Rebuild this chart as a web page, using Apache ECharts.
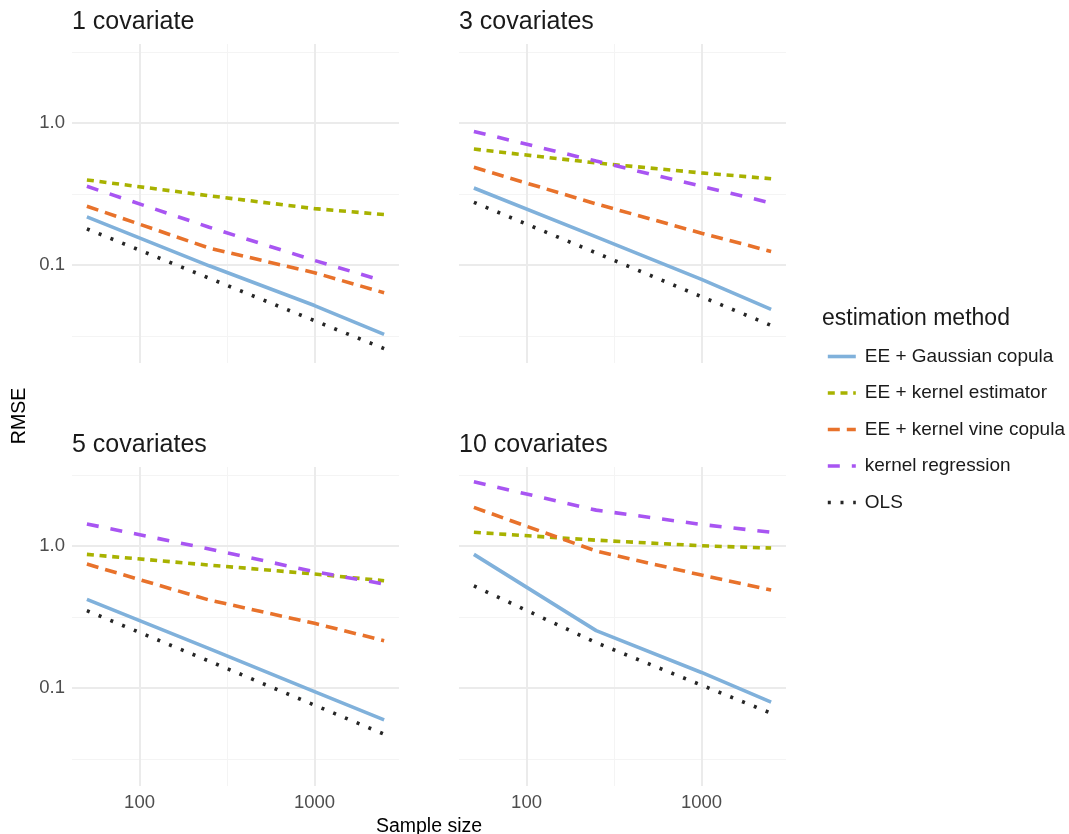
<!DOCTYPE html>
<html>
<head>
<meta charset="utf-8">
<script src="https://cdn.jsdelivr.net/npm/echarts@6/dist/echarts.min.js"></script>
<style>
html, body { margin: 0; padding: 0; background: #ffffff; }
#chart { width: 1069px; height: 834px; }
</style>
</head>
<body>
<div id="chart"></div>
<script>
// ---------------- data ----------------
const sampleSizes = [50, 250, 1000, 2500];
const panelTitles = ['1 covariate', '3 covariates', '5 covariates', '10 covariates'];
const methodNames = ['EE + Gaussian copula', 'EE + kernel estimator', 'EE + kernel vine copula', 'kernel regression', 'OLS'];

// RMSE per panel (1, 3, 5, 10 covariates); each row follows sampleSizes
const gaussianCopula = [
  [0.219, 0.099, 0.052, 0.0326],
  [0.349, 0.158, 0.0795, 0.0489],
  [0.422, 0.190, 0.0947, 0.0599],
  [0.874, 0.254, 0.129, 0.0797]
];
const kernelEstimator = [
  [0.398, 0.308, 0.250, 0.227],
  [0.656, 0.524, 0.446, 0.406],
  [0.874, 0.735, 0.636, 0.570],
  [1.25, 1.10, 1.005, 0.968]
];
const kernelVineCopula = [
  [0.260, 0.132, 0.0885, 0.064],
  [0.488, 0.270, 0.168, 0.125],
  [0.747, 0.417, 0.286, 0.216],
  [1.87, 0.922, 0.625, 0.491]
];
const kernelRegression = [
  [0.359, 0.185, 0.108, 0.0772],
  [0.873, 0.540, 0.359, 0.274],
  [1.43, 0.955, 0.660, 0.541],
  [2.83, 1.79, 1.42, 1.25]
];
const ols = [
  [0.180, 0.081, 0.0407, 0.0259],
  [0.277, 0.122, 0.060, 0.0377],
  [0.351, 0.155, 0.076, 0.0475],
  [0.524, 0.209, 0.105, 0.0667]
];
const methodData = [gaussianCopula, kernelEstimator, kernelVineCopula, kernelRegression, ols];

const xTickValues = [100, 1000];
const xTickLabels = ['100', '1000'];
const yTickValues = [0.1, 1];
const yTickLabels = ['0.1', '1.0'];

const xLimits = [41.1, 3041];
const yLimits = [0.0205, 3.6];

// ---------------- styles / layout ----------------
const FONT = '"Liberation Sans", Arial, Helvetica, sans-serif';
const methodColors = ['#80B1DB', '#A8B200', '#E8722B', '#A855F2', '#262626'];
const methodDashes = ['solid', [7, 5.7], [12, 7], [12, 12], [3, 9.7]];
const LINE_W = 3.6;
const panelRects = [
  { left: 72, top: 44 }, { left: 459, top: 44 },
  { left: 72, top: 467 }, { left: 459, top: 467 }
];
const PANEL_W = 327, PANEL_H = 319;
const titleTops = [10, 10, 433, 433];

function isTick(v, list) {
  for (let i = 0; i < list.length; i++) {
    if (Math.abs(Math.log10(v) - Math.log10(list[i])) < 1e-6) return i;
  }
  return -1;
}

const grids = [], xAxes = [], yAxes = [], series = [], titles = [];

panelRects.forEach(function (r, p) {
  const row = p < 2 ? 0 : 1;
  const col = p % 2;
  grids.push({ left: r.left, top: r.top, width: PANEL_W, height: PANEL_H,
               containLabel: false, outerBoundsMode: 'none', show: false });

  // primary x axis (decades)
  xAxes.push({
    type: 'log', logBase: 10, gridIndex: p, position: 'bottom',
    min: xLimits[0], max: xLimits[1], z: 1,
    axisLine: { show: false }, axisTick: { show: false },
    axisLabel: {
      show: row === 1, showMinLabel: false, showMaxLabel: false, margin: 7,
      fontSize: 18.5, color: '#4D4D4D', fontFamily: FONT,
      formatter: function (v) { const i = isTick(v, xTickValues); return i >= 0 ? xTickLabels[i] : ''; }
    },
    splitLine: { show: true, showMinLine: false, showMaxLine: false,
                 lineStyle: { color: '#EBEBEB', width: 2 } }
  });
  // minor x grid (half decades)
  xAxes.push({
    type: 'log', logBase: Math.sqrt(10), gridIndex: p, position: 'top',
    min: xLimits[0], max: xLimits[1], z: 0,
    axisLine: { show: false }, axisTick: { show: false }, axisLabel: { show: false },
    splitLine: { show: true, showMinLine: false, showMaxLine: false,
                 lineStyle: { color: '#F4F4F4', width: 1 } }
  });
  // primary y axis
  yAxes.push({
    type: 'log', logBase: 10, gridIndex: p, position: 'left',
    min: yLimits[0], max: yLimits[1], z: 1,
    axisLine: { show: false }, axisTick: { show: false },
    axisLabel: {
      show: col === 0, showMinLabel: false, showMaxLabel: false, margin: 7,
      fontSize: 18.5, color: '#4D4D4D', fontFamily: FONT,
      formatter: function (v) { const i = isTick(v, yTickValues); return i >= 0 ? yTickLabels[i] : ''; }
    },
    splitLine: { show: true, showMinLine: false, showMaxLine: false,
                 lineStyle: { color: '#EBEBEB', width: 2 } }
  });
  // minor y grid
  yAxes.push({
    type: 'log', logBase: Math.sqrt(10), gridIndex: p, position: 'right',
    min: yLimits[0], max: yLimits[1], z: 0,
    axisLine: { show: false }, axisTick: { show: false }, axisLabel: { show: false },
    splitLine: { show: true, showMinLine: false, showMaxLine: false,
                 lineStyle: { color: '#F4F4F4', width: 1 } }
  });

  titles.push({
    text: panelTitles[p], left: r.left, top: titleTops[p], padding: 0,
    textStyle: { fontSize: 25, fontWeight: 'normal', color: '#1A1A1A', fontFamily: FONT, lineHeight: 25 }
  });

  methodNames.forEach(function (name, m) {
    series.push({
      name: name, type: 'line', xAxisIndex: 2 * p, yAxisIndex: 2 * p,
      symbol: 'none', showSymbol: false, silent: true, animation: false,
      data: sampleSizes.map(function (n, i) { return [n, methodData[m][p][i]]; }),
      lineStyle: { color: methodColors[m], width: LINE_W, type: methodDashes[m], cap: 'butt' },
      itemStyle: { color: methodColors[m], opacity: 0 },
      z: 2
    });
  });
});

titles.push({
  text: 'estimation method', left: 822, top: 307, padding: 0,
  textStyle: { fontSize: 23, fontWeight: 'normal', color: '#1A1A1A', fontFamily: FONT, lineHeight: 23 }
});

const option = {
  backgroundColor: '#ffffff',
  animation: false,
  title: titles,
  grid: grids,
  xAxis: xAxes,
  yAxis: yAxes,
  series: series,
  legend: {
    data: methodNames, orient: 'vertical', left: 826, top: 346.5,
    itemWidth: 28, itemHeight: 20, itemGap: 16.5, padding: 0,
    itemStyle: { opacity: 0 },
    lineStyle: { width: LINE_W },
    textStyle: { fontSize: 19, color: '#1A1A1A', fontFamily: FONT, padding: [0, 0, 0, 4], lineHeight: 20 },
    selectedMode: false
  },
  graphic: [
    { type: 'text', x: 429, y: 827, silent: true,
      style: { text: 'Sample size', fontSize: 19.5, fontFamily: FONT, fill: '#000000',
               align: 'center', verticalAlign: 'middle', textAlign: 'center', textVerticalAlign: 'middle' } },
    { type: 'text', x: 20, y: 416, rotation: Math.PI / 2, silent: true,
      style: { text: 'RMSE', fontSize: 19.5, fontFamily: FONT, fill: '#000000',
               align: 'center', verticalAlign: 'middle', textAlign: 'center', textVerticalAlign: 'middle' } }
  ]
};

const chart = echarts.init(document.getElementById('chart'), null, { renderer: 'canvas' });
chart.setOption(option);
</script>
</body>
</html>
